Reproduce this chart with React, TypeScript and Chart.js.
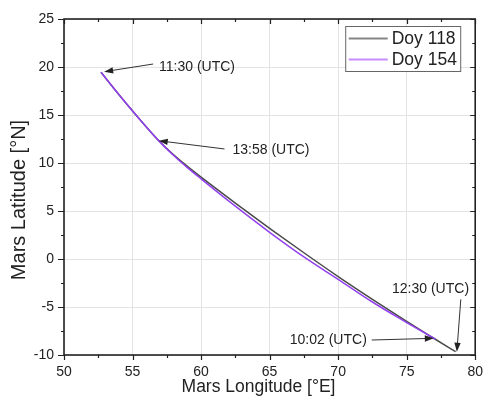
import React, { useEffect, useRef } from 'react';
import { Chart, registerables } from 'chart.js';

Chart.register(...registerables);

// ---- data ----
const seriesLabels = ['Doy 118', 'Doy 154'];
const doy118Lon = [52.7, 54, 55.5, 56.9, 58, 59, 60, 62.5, 65, 67.5, 70, 72.5, 75, 77, 78.57];
const doy118Lat = [19.45, 17.14, 14.59, 12.35, 10.85, 9.65, 8.53, 5.83, 3.2, 0.65, -1.83, -4.2, -6.5, -8.28, -9.66];
const doy154Lon = [52.7, 54, 55.5, 56.9, 58, 59, 60, 62.5, 65, 67.5, 70, 72.5, 75, 77.1];
const doy154Lat = [19.45, 17.14, 14.59, 12.33, 10.78, 9.52, 8.35, 5.5, 2.78, 0.22, -2.12, -4.48, -6.62, -8.36];

const xTicks = [50, 55, 60, 65, 70, 75, 80];
const yTicks = [-10, -5, 0, 5, 10, 15, 20, 25];

const xTitle = 'Mars Longitude [°E]';
const yTitle = 'Mars Latitude [°N]';

const annotationTexts = ['11:30 (UTC)', '13:58 (UTC)', '12:30 (UTC)', '10:02 (UTC)'];
const annotationTips = [[52.93, 19.51], [56.91, 12.32], [78.66, -9.66], [76.98, -8.26]];
const annotationTails = [[56.5, 20.31], [61.71, 11.46], [78.95, -4.2], [72.45, -8.44]];
const annotationLabelAt = [[56.93, 20.03], [62.29, 11.35], [76.74, -3.16], [72.09, -8.44]];
const annotationAlign: CanvasTextAlign[] = ['left', 'left', 'center', 'right'];

// ---- styles ----
const COLORS = ['#4a4a4a', '#9340f0'];
const LEGEND_COLORS = ['#858585', '#c88cff'];
const AXIS = '#222222';
const TEXT = '#222222';
const FONT = 'Liberation Sans, Arial, sans-serif';

const toPoints = (xs: number[], ys: number[]) => xs.map((x, i) => ({ x, y: ys[i] }));

const minorValues = (ticks: number[]) => {
  const out: number[] = [];
  for (let i = 0; i < ticks.length - 1; i++) out.push((ticks[i] + ticks[i + 1]) / 2);
  return out;
};

const framePlugin = {
  id: 'frame',
  afterDatasetsDraw(chart: any) {
    const { ctx, chartArea: a, scales } = chart;
    const xs = scales.x;
    const ys = scales.y;
    ctx.save();
    ctx.strokeStyle = AXIS;
    ctx.lineWidth = 1.2;
    ctx.beginPath();
    const drawX = (v: number, major: boolean) => {
      const px = Math.round(xs.getPixelForValue(v)) + 0.5;
      const len = major ? 5 : 3;
      ctx.moveTo(px, a.bottom);
      ctx.lineTo(px, a.bottom + len);
      ctx.moveTo(px, a.top);
      ctx.lineTo(px, a.top + len);
    };
    const drawY = (v: number, major: boolean) => {
      const py = Math.round(ys.getPixelForValue(v)) + 0.5;
      const lenL = major ? 6 : 3;
      const lenR = major ? 5 : 3;
      ctx.moveTo(a.left, py);
      ctx.lineTo(a.left - lenL, py);
      ctx.moveTo(a.right, py);
      ctx.lineTo(a.right - lenR, py);
    };
    xTicks.forEach((v) => drawX(v, true));
    minorValues(xTicks).forEach((v) => drawX(v, false));
    yTicks.forEach((v) => drawY(v, true));
    minorValues(yTicks).forEach((v) => drawY(v, false));
    ctx.stroke();
    ctx.lineWidth = 1.6;
    ctx.strokeRect(a.left, a.top, a.right - a.left, a.bottom - a.top);

    // annotations
    ctx.font = `14px ${FONT}`;
    ctx.fillStyle = TEXT;
    ctx.textBaseline = 'middle';
    annotationTexts.forEach((t, i) => {
      const tx = xs.getPixelForValue(annotationTails[i][0]);
      const ty = ys.getPixelForValue(annotationTails[i][1]);
      const hx = xs.getPixelForValue(annotationTips[i][0]);
      const hy = ys.getPixelForValue(annotationTips[i][1]);
      const ang = Math.atan2(hy - ty, hx - tx);
      const L = 9;
      const W = 3.2;
      ctx.strokeStyle = '#333';
      ctx.lineWidth = 1;
      ctx.beginPath();
      ctx.moveTo(tx, ty);
      ctx.lineTo(hx - Math.cos(ang) * (L - 1), hy - Math.sin(ang) * (L - 1));
      ctx.stroke();
      ctx.fillStyle = '#222';
      ctx.beginPath();
      ctx.moveTo(hx, hy);
      ctx.lineTo(hx - Math.cos(ang) * L - Math.sin(ang) * W, hy - Math.sin(ang) * L + Math.cos(ang) * W);
      ctx.lineTo(hx - Math.cos(ang) * L + Math.sin(ang) * W, hy - Math.sin(ang) * L - Math.cos(ang) * W);
      ctx.closePath();
      ctx.fill();
      ctx.fillStyle = TEXT;
      ctx.textAlign = annotationAlign[i];
      ctx.fillText(t, xs.getPixelForValue(annotationLabelAt[i][0]), ys.getPixelForValue(annotationLabelAt[i][1]));
    });

    // legend
    const lx = a.right - 129.5;
    const ly = a.top + 7.5;
    const lw = 115;
    const lh = 45;
    ctx.fillStyle = '#fff';
    ctx.fillRect(lx, ly, lw, lh);
    ctx.strokeStyle = '#666';
    ctx.lineWidth = 1;
    ctx.strokeRect(lx, ly, lw, lh);
    ctx.font = `17.5px ${FONT}`;
    ctx.textAlign = 'left';
    seriesLabels.forEach((s, i) => {
      const y = ly + 12 + i * 21;
      ctx.strokeStyle = LEGEND_COLORS[i];
      ctx.lineWidth = 2;
      ctx.beginPath();
      ctx.moveTo(lx + 3, y);
      ctx.lineTo(lx + 42, y);
      ctx.stroke();
      ctx.fillStyle = TEXT;
      ctx.fillText(s, lx + 46, y + 0.5);
    });

    // axis titles
    ctx.fillStyle = TEXT;
    ctx.textAlign = 'center';
    ctx.font = `17.5px ${FONT}`;
    ctx.fillText(xTitle, a.left + 194.5, 387);
    ctx.save();
    ctx.translate(19.5, 200);
    ctx.rotate(-Math.PI / 2);
    ctx.font = `20px ${FONT}`;
    ctx.fillText(yTitle, 0, 0);
    ctx.restore();
    ctx.restore();
  },
};

export default function App() {
  const ref = useRef<HTMLCanvasElement>(null);
  useEffect(() => {
    const canvas = ref.current;
    if (!canvas) return;
    const chart = new Chart(canvas, {
      type: 'scatter',
      data: {
        datasets: [
          {
            label: seriesLabels[0],
            data: toPoints(doy118Lon, doy118Lat),
            borderColor: COLORS[0],
            backgroundColor: COLORS[0],
            borderWidth: 1.5,
            showLine: true,
            pointRadius: 0,
            cubicInterpolationMode: 'monotone',
            order: 1,
          },
          {
            label: seriesLabels[1],
            data: toPoints(doy154Lon, doy154Lat),
            borderColor: COLORS[1],
            backgroundColor: COLORS[1],
            borderWidth: 1.5,
            showLine: true,
            pointRadius: 0,
            cubicInterpolationMode: 'monotone',
            order: 0,
          },
        ],
      } as any,
      options: {
        animation: false,
        responsive: false,
        layout: { padding: { top: 19, right: 8, left: 0, bottom: 0 } },
        plugins: { legend: { display: false }, tooltip: { enabled: false } },
        scales: {
          x: {
            type: 'linear',
            min: xTicks[0],
            max: xTicks[xTicks.length - 1],
            afterBuildTicks: (s: any) => {
              s.ticks = xTicks.map((v) => ({ value: v }));
            },
            afterFit: (s: any) => {
              s.height = 45;
            },
            ticks: { font: { size: 14, family: FONT }, color: TEXT, padding: 9, maxRotation: 0 },
            grid: { color: '#e3e3e3', drawTicks: false, lineWidth: 1 },
            border: { display: false },
          },
          y: {
            type: 'linear',
            min: yTicks[0],
            max: yTicks[yTicks.length - 1],
            afterBuildTicks: (s: any) => {
              s.ticks = yTicks.map((v) => ({ value: v }));
            },
            afterFit: (s: any) => {
              s.width = 64;
            },
            ticks: { font: { size: 14, family: FONT }, color: TEXT, padding: 10 },
            grid: { color: '#e3e3e3', drawTicks: false, lineWidth: 1 },
            border: { display: false },
          },
        },
      } as any,
      plugins: [framePlugin],
    });
    return () => chart.destroy();
  }, []);
  return (
    <div style={{ position: 'fixed', left: 0, top: 0, width: 492, height: 400, background: '#fff' }}>
      <canvas ref={ref} width={492} height={400} style={{ width: 492, height: 400, display: 'block' }} />
    </div>
  );
}
